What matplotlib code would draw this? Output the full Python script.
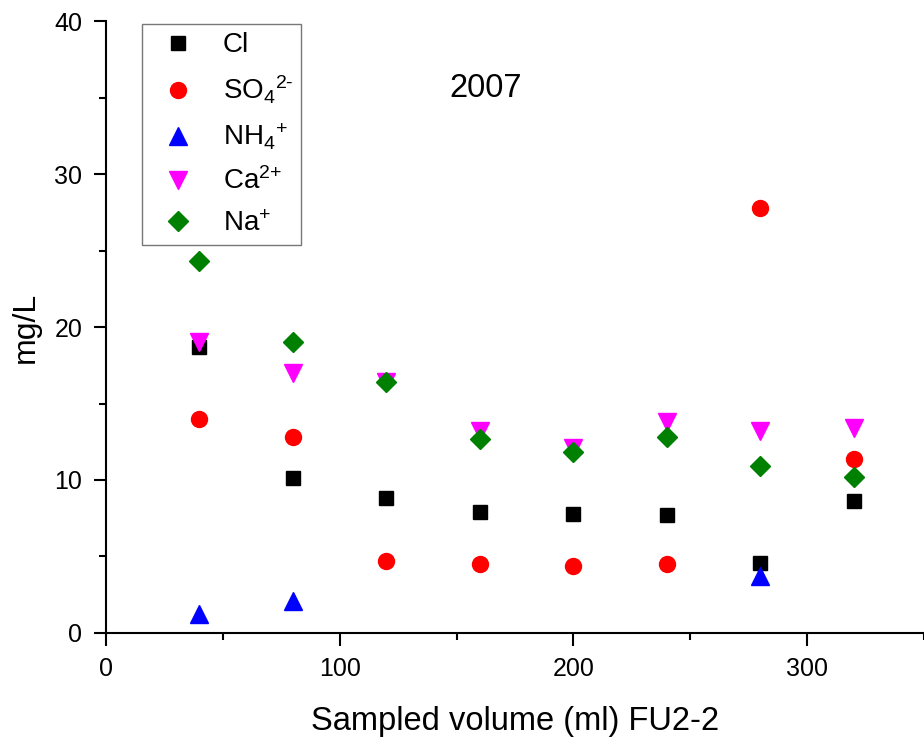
import matplotlib
matplotlib.use("Agg")
import matplotlib.pyplot as plt
from matplotlib.ticker import MultipleLocator

plt.rcParams["font.family"] = ["Liberation Sans", "DejaVu Sans"]
plt.rcParams["mathtext.fontset"] = "custom"
plt.rcParams["mathtext.rm"] = "Liberation Sans"
plt.rcParams["mathtext.it"] = "Liberation Sans"
plt.rcParams["mathtext.default"] = "regular"

# volumen muestreado (ml)
volumen = [40, 80, 120, 160, 200, 240, 280, 320]

# concentraciones (mg/L)
cl = [18.7, 10.1, 8.8, 7.9, 7.8, 7.7, 4.55, 8.6]
so4 = [14.0, 12.8, 4.7, 4.5, 4.4, 4.5, 27.8, 11.35]
nh4_vol = [40, 80, 280]
nh4 = [1.25, 2.1, 3.7]
ca = [19.0, 17.0, 16.4, 13.2, 12.1, 13.8, 13.2, 13.4]
na = [24.3, 19.05, 16.4, 12.7, 11.8, 12.8, 10.9, 10.2]

fig = plt.figure(figsize=(9.24, 7.38), dpi=100)
ax = fig.add_axes([0.1147, 0.1423, 0.8853, 0.8292])

ax.plot(volumen, cl, ls="none", marker="s", ms=10, color="black", label="Cl")
ax.plot(volumen, so4, ls="none", marker="o", ms=11.5, color="red",
        label=r"SO$_4$$^{\text{2-}}$")
ax.plot(nh4_vol, nh4, ls="none", marker="^", ms=13, color="blue",
        label=r"NH$_4$$^{\text{+}}$")
ax.plot(volumen, ca, ls="none", marker="v", ms=13, color="magenta",
        label=r"Ca$^{\text{2+}}$")
ax.plot(volumen, na, ls="none", marker="D", ms=10, color="green",
        label=r"Na$^{\text{+}}$")

ax.set_xlim(0, 350)
ax.set_ylim(0, 40)
ax.xaxis.set_major_locator(MultipleLocator(100))
ax.xaxis.set_minor_locator(MultipleLocator(50))
ax.yaxis.set_major_locator(MultipleLocator(10))
ax.yaxis.set_minor_locator(MultipleLocator(5))

for lado in ["top", "right"]:
    ax.spines[lado].set_visible(False)
for lado in ["left", "bottom"]:
    ax.spines[lado].set_linewidth(1.5)
ax.tick_params(which="major", direction="out", length=9, width=1.5,
               labelsize=18, pad=8)
ax.tick_params(which="minor", direction="out", length=5, width=1.5)

ax.set_xlabel("Sampled volume (ml) FU2-2", fontsize=23.5, labelpad=18)
ax.set_ylabel("mg/L", fontsize=23, labelpad=10)

ax.text(162.5, 35.6, "2007", fontsize=23.5, ha="center", va="center")

leg = ax.legend(loc="upper left", bbox_to_anchor=(0.044, 0.995), fontsize=20,
                frameon=True, fancybox=False, edgecolor="#555555",
                handletextpad=0.6, labelspacing=0.56, borderpad=0.3,
                handlelength=2.0, borderaxespad=0)
leg.get_frame().set_linewidth(1.0)

fig.savefig("out.png", dpi=100)
